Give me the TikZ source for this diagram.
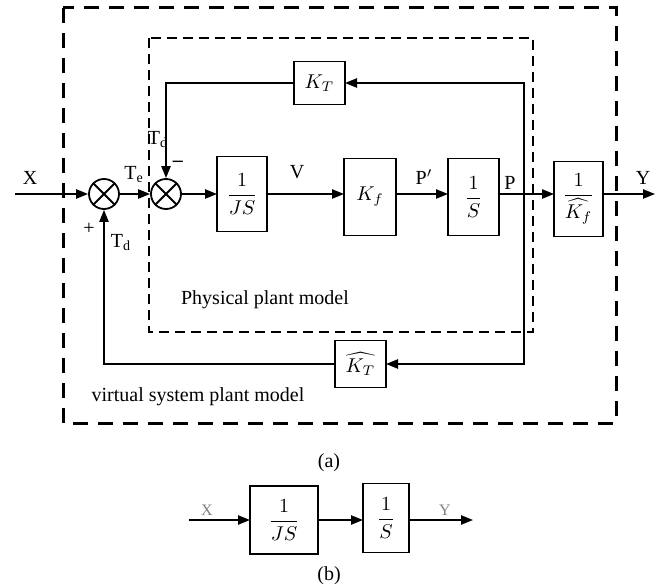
\documentclass[tikz,border=0pt]{standalone}
\usepackage{tikz}
\usetikzlibrary{positioning,arrows,arrows.meta}
\usepackage{fontspec,amsmath}
\setmainfont{Liberation Serif}

\begin{document}
\begin{tikzpicture}[x=0.5pt,y=-0.5pt,>={Triangle[length=6pt,width=4.6pt]},%
	line width=0.9pt,%
	font=\fontsize{10}{12}\selectfont,%
	blk/.style={draw, inner sep=0pt, outer sep=0pt},%
	sumnode/.style={draw, circle, minimum size=15pt, inner sep=0pt},%
	outerframe/.style={line width=1.5pt, dash pattern=on 7.5pt off 5pt},%
	innerframe/.style={line width=1pt, dash pattern=on 5pt off 3pt}]
	\useasboundingbox (0,0) rectangle (664,588);
	
	% frames
	\draw[outerframe] (63,8) rectangle (616,423);
	\draw[innerframe] (149,38) rectangle (533,332);
	\node at (265,300) {Physical plant model};
	\node at (198,397) {virtual system plant model};
	
	% forward path (a)
	\node[sumnode] (s1) at (104,194) {};
	\node[sumnode] (s2) at (166,194) {};
	\foreach \s in {s1,s2}{
		\draw (\s.45)--(\s.225);
		\draw (\s.135)--(\s.315);
	}
	\node[blk, minimum width=25pt, minimum height=37.5pt] (bJS) at (242,194) {$\dfrac{1}{JS}$};
	\node[blk, minimum width=26pt, minimum height=38.5pt] (bKf) at (370,197) {$K_f$};
	\node[blk, minimum width=25.5pt, minimum height=38.5pt] (bS) at (473.5,197) {$\dfrac{1}{S}$};
	\node[blk, minimum width=24.5pt, minimum height=37.5pt] (bKfh) at (578.5,199) {$\dfrac{1}{\widehat{K_f}}$};
	\node[blk, minimum width=25.5pt, minimum height=21.5pt] (bKT) at (319.5,83) {$K_T$};
	\node[blk, minimum width=25.5pt, minimum height=23.5pt] (bKTh) at (360.5,364) {$\widehat{K_T}$};
	
	\coordinate (xin) at (15,194);
	\coordinate (yout) at (655,194);
	\coordinate (pj) at (524,194);
	
	\draw[->] (xin) -- (s1);
	\draw[->] (s1) -- (s2);
	\draw[->] (s2) -- (bJS.west |- s2);
	\draw[->] (bJS.east |- s2) -- (bKf.west |- s2);
	\draw[->] (bKf.east |- s2) -- (bS.west |- s2);
	\draw (bS.east |- s2) -- (pj);
	\draw[->] (pj) -- (bKfh.west |- s2);
	\draw[->] (bKfh.east |- s2) -- (yout);
	
	% feedback loops
	\draw[->] (pj) |- (bKT);
	\draw[->] (bKT) -| (s2);
	\draw[->] (pj) |- (bKTh);
	\draw[->] (bKTh) -| (s1);
	
	% signal labels
	\node at (30,178) {X};
	\node at (134,175) {T\textsubscript{e}};
	\node at (158,140) {T\textsubscript{d}};
	\node at (178,164) {\textbf{--}};
	\node at (89,229) {+};
	\node at (121,243) {T\textsubscript{d}};
	\node at (297,172) {V};
	\node at (424,177) {P$'$};
	\node at (510,183) {P};
	\node at (643,178) {Y};
	\node at (329,463) {(a)};
	
	% simplified model (b)
	\node[blk, minimum width=34pt, minimum height=34pt] (cJS) at (284,520) {$\dfrac{1}{JS}$};
	\node[blk, minimum width=23pt, minimum height=34.5pt] (cS) at (386,518) {$\dfrac{1}{S}$};
	\coordinate (xin2) at (189,520);
	\coordinate (yout2) at (473,520);
	\draw[->] (xin2) -- (cJS.west |- xin2);
	\draw[->] (cJS.east |- xin2) -- (cS.west |- xin2);
	\draw[->] (cS.east |- xin2) -- (yout2);
	\node[text=gray] at (207,510) {\fontsize{8}{10}\selectfont X};
	\node[text=gray] at (445,510) {\fontsize{8}{10}\selectfont Y};
	\node at (329,576) {(b)};
\end{tikzpicture}
\end{document}
